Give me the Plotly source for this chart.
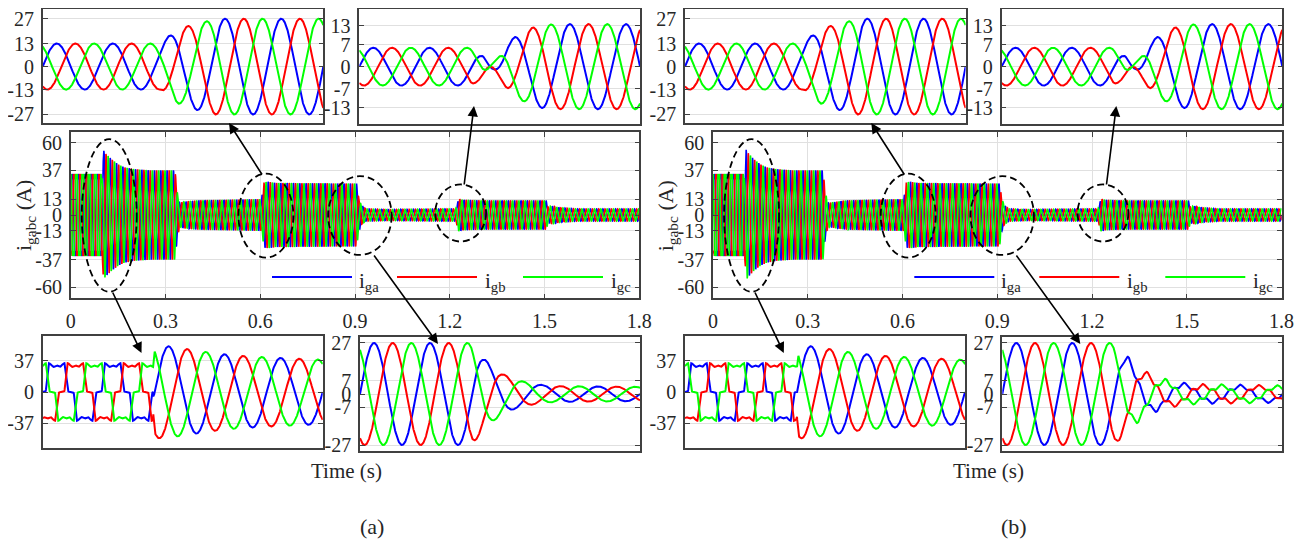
import numpy as np
import plotly.graph_objects as go

# ====================== data ======================
F_HZ = 50.0                       # grid frequency of the currents
INSET_WINDOW = 0.1                # each zoom window spans 0.1 s (5 cycles)
PHASE_NAMES = ["ga", "gb", "gc"]
PHASE_SHIFTS_DEG = [0.0, -120.0, 120.0]

# six-step (120 deg conduction) current shape over one cycle, per unit
SIXSTEP_DEG = list(range(0, 361, 10))
SIXSTEP_PU = [0, 0, 0.04, 0.55, 1.0, 0.98, 0.9, 0.87, 0.9, 0.93, 0.9, 0.87, 0.9, 0.98,
              1.0, 0.55, 0.04, 0, 0, 0, -0.04, -0.55, -1.0, -0.98, -0.9, -0.87, -0.9,
              -0.93, -0.9, -0.87, -0.9, -0.98, -1.0, -0.55, -0.04, 0, 0]

# ---- main traces: current envelope (A) versus time (s)
MAIN_A_SIXSTEP_END = 0.1
MAIN_A_ENV_T = [0, 0.1, 0.103, 0.11, 0.13, 0.15, 0.17, 0.2, 0.25, 0.33,
                0.338, 0.345, 0.36, 0.4, 0.5, 0.603, 0.612, 0.625, 0.65, 0.905,
                0.912, 0.92, 0.935, 1.0, 1.2, 1.218, 1.228, 1.24, 1.3, 1.505,
                1.512, 1.52, 1.55, 1.6, 1.8]
MAIN_A_ENV_I = [34, 34, 54, 51, 46, 42, 39.5, 38, 37, 37,
                18, 10, 11, 12, 12.5, 13, 27, 27.5, 26.5, 26,
                14, 8, 5, 4.5, 5, 5, 13.5, 12.5, 12, 12,
                6, 7.5, 6, 5, 5]

MAIN_B_SIXSTEP_END = 0.1
MAIN_B_ENV_T = [0, 0.1, 0.105, 0.112, 0.13, 0.15, 0.17, 0.2, 0.25, 0.348,
                0.356, 0.364, 0.38, 0.42, 0.5, 0.603, 0.612, 0.625, 0.65, 0.907,
                0.914, 0.922, 0.937, 1.0, 1.2, 1.218, 1.228, 1.24, 1.3, 1.505,
                1.512, 1.52, 1.55, 1.6, 1.8]
MAIN_B_ENV_I = [34, 34, 54, 51, 46, 42, 39.5, 38, 37, 37,
                18, 10, 10.5, 12, 12.5, 13, 27, 27.5, 26.5, 26,
                14, 8, 5, 4.5, 5, 5, 13.5, 12.5, 12, 12,
                6, 7.5, 6, 5, 5]

MAIN_X_TICKS = [0, 0.3, 0.6, 0.9, 1.2, 1.5, 1.8]
MAIN_X_TICKTEXT = ["0", "0.3", "0.6", "0.9", "1.2", "1.5", "1.8"]
MAIN_Y_TICKS = [60, 37, 13, 0, -13, -37, -60]
MAIN_Y_TICKTEXT = ["60", "37", "13", "0", "-13", "-37", "-60"]

# ---- zoom insets: window start (s), envelope knots (fraction of window, A)
TL_A_T0 = 0.56
TL_A_ENV_FRAC = [0, 0.418, 0.448, 0.483, 0.513, 0.549, 0.584, 0.614, 1.0]
TL_A_ENV_I = [13, 13, 17, 20.8, 22.6, 24.5, 25.5, 27, 27]
TL_B_T0 = 0.56
TL_B_ENV_FRAC = [0, 0.418, 0.448, 0.483, 0.513, 0.549, 0.584, 0.614, 1.0]
TL_B_ENV_I = [13, 13, 17, 20.8, 22.6, 24.5, 25.5, 27, 27]
TL_Y_TICKS = [27, 13, 0, -13, -27]
TL_Y_TICKTEXT = ["27", "13", "0", "-13", "-27"]

TR_A_T0 = 1.18
TR_A_ENV_FRAC = [0, 0.40, 0.44, 0.465, 0.49, 0.53, 0.555, 0.585, 0.62, 0.66, 0.72, 1.0]
TR_A_ENV_I = [6, 6, 3.5, 0, -2.5, -7.5, -9.5, -11, -12.5, -13.3, -13.5, -13.5]
TR_B_T0 = 1.18
TR_B_ENV_FRAC = [0, 0.40, 0.44, 0.465, 0.49, 0.53, 0.555, 0.585, 0.62, 0.66, 0.72, 1.0]
TR_B_ENV_I = [6, 6, 3.5, 0, -2.5, -7.5, -9.5, -11, -12.5, -13.3, -13.5, -13.5]
TR_Y_TICKS = [13, 7, 0, -7, -13]
TR_Y_TICKTEXT = ["13", "7", "0", "-7", "-13"]

BL_A_T0 = 0.06
BL_A_SIXSTEP_FRAC = 0.395
BL_A_ENV_FRAC = [0, 0.395, 0.40, 0.45, 0.5, 0.55, 0.6, 0.65, 0.7, 0.8, 0.9, 1.0]
BL_A_ENV_I = [34, 34, 55, 54, 51.5, 49, 46.5, 44.5, 43, 41, 39.5, 38]
BL_B_T0 = 0.06
BL_B_SIXSTEP_FRAC = 0.40
BL_B_ENV_FRAC = [0, 0.40, 0.405, 0.45, 0.5, 0.55, 0.6, 0.65, 0.7, 0.8, 0.9, 1.0]
BL_B_ENV_I = [34, 34, 55, 54, 51.5, 49, 46.5, 44.5, 43, 41, 39.5, 38]
BL_Y_TICKS = [37, 0, -37]
BL_Y_TICKTEXT = ["37", "0", "-37"]

BR_A_T0 = 0.87
BR_A_ENV_FRAC = [0, 0.40, 0.44, 0.47, 0.51, 0.55, 0.6, 0.65, 0.7, 1.0]
BR_A_ENV_I = [27, 27, 19, 15, 10.5, 8, 6, 4.8, 4.2, 3.8]
BR_B_T0 = 0.87
BR_B_ENV_FRAC = [0, 0.40, 0.44, 0.47, 0.51, 0.55, 0.6, 0.65, 0.7, 1.0]
BR_B_ENV_I = [27, 27, 19, 15, 10.5, 8, 6, 4.8, 4.2, 3.8]
BR_B_H5_FRAC = [0, 0.40, 0.44, 0.6, 1.0]       # 5th-harmonic ripple in (b)
BR_B_H5_I = [0, 0, 2.0, 1.2, 0.8]
BR_Y_TICKS = [27, 7, 0, -7, -27]
BR_Y_TICKTEXT = ["27", "7", "0", "-7", "-27"]

# ====================== figure layout ======================
# The page body adds an 8 px margin, so the figure is drawn 8 px smaller and
# all positions below (given in window pixels) are shifted by that margin.
PAGE_W, PAGE_H = 1313, 542
BODY = 8
W, H = PAGE_W - BODY, PAGE_H - BODY


def px(x):
    return (x - BODY) / W


def py(y):
    return 1 - (y - BODY) / H


FONT = "Liberation Serif, Times New Roman, serif"
TXT = "#262626"
AXC = "#404040"
GRID = "#e0e0e0"
COLORS = ["#0000ff", "#ff0000", "#00ff00"]
OFF_B = 642.3

# pixel boxes (x0, x1, y0_top, y1_bottom)
BOX = {
    "mainA": (70.7, 639.3, 131.7, 298.3),
    "mainB": (70.7 + OFF_B, 639.3 + OFF_B, 131.7, 298.3),
    "TLA": (42.7, 323.3, 9.3, 123.3),
    "TRA": (359.3, 640.0, 9.3, 124.0),
    "BLA": (42.7, 322.7, 335.7, 448.3),
    "BRA": (360.0, 640.0, 337.3, 450.7),
    "TLB": (42.7 + OFF_B, 323.3 + OFF_B, 9.3, 123.3),
    "TRB": (359.3 + OFF_B, 640.0 + OFF_B, 9.3, 124.0),
    "BLB": (42.7 + OFF_B, 322.7 + OFF_B, 335.7, 448.3),
    "BRB": (360.0 + OFF_B, 640.0 + OFF_B, 337.3, 450.7),
}
AX_ID = {"mainA": 1, "mainB": 2, "TLA": 3, "TRA": 4, "BLA": 5, "BRA": 6,
         "TLB": 7, "TRB": 8, "BLB": 9, "BRB": 10}
YRANGE = {"main": [-69, 69], "TL": [-32, 32.3], "TR": [-18.2, 18.2],
          "BL": [-66.5, 66.5], "BR": [-30, 30]}


def sixstep(theta_deg):
    return np.interp(np.mod(theta_deg, 360.0), SIXSTEP_DEG, SIXSTEP_PU)


def three_phase(t, t_ref, env_t, env_i, sixstep_end=None, h5_t=None, h5_i=None):
    amp = np.interp(t, env_t, env_i)
    theta = 360.0 * F_HZ * (t - t_ref)
    out = []
    for sh in PHASE_SHIFTS_DEG:
        th = theta + sh
        y = amp * np.sin(np.radians(th))
        if sixstep_end is not None:
            m = t < sixstep_end
            y[m] = amp[m] * sixstep(th[m])
        if h5_t is not None:
            y = y + np.interp(t, h5_t, h5_i) * np.sin(np.radians(5 * th))
        out.append(y)
    return out


fig = go.Figure()


def add_traces(key, t, ys, width):
    n = AX_ID[key]
    xa = "x" if n == 1 else f"x{n}"
    ya = "y" if n == 1 else f"y{n}"
    for name, col, y in zip(PHASE_NAMES, COLORS, ys):
        fig.add_trace(go.Scatter(x=t, y=y, mode="lines", name="i" + name,
                                 line=dict(color=col, width=width),
                                 xaxis=xa, yaxis=ya, showlegend=False,
                                 hoverinfo="skip"))


# main panels
t_main = np.linspace(0, 1.8, 6481)
add_traces("mainA", t_main, three_phase(t_main, 0.0, MAIN_A_ENV_T, MAIN_A_ENV_I,
                                        sixstep_end=MAIN_A_SIXSTEP_END), 1.6)
add_traces("mainB", t_main, three_phase(t_main, 0.0, MAIN_B_ENV_T, MAIN_B_ENV_I,
                                        sixstep_end=MAIN_B_SIXSTEP_END), 1.6)


def inset(key, t0, frac, amps, sixstep_frac=None, h5_frac=None, h5_i=None):
    t = np.linspace(t0, t0 + INSET_WINDOW, 1201)
    env_t = [t0 + f * INSET_WINDOW for f in frac]
    se = None if sixstep_frac is None else t0 + sixstep_frac * INSET_WINDOW
    h5t = None if h5_frac is None else [t0 + f * INSET_WINDOW for f in h5_frac]
    add_traces(key, t, three_phase(t, t0, env_t, amps, sixstep_end=se,
                                   h5_t=h5t, h5_i=h5_i), 2.0)
    return [t0, t0 + INSET_WINDOW]


xr = {}
xr["TLA"] = inset("TLA", TL_A_T0, TL_A_ENV_FRAC, TL_A_ENV_I)
xr["TRA"] = inset("TRA", TR_A_T0, TR_A_ENV_FRAC, TR_A_ENV_I)
xr["BLA"] = inset("BLA", BL_A_T0, BL_A_ENV_FRAC, BL_A_ENV_I, sixstep_frac=BL_A_SIXSTEP_FRAC)
xr["BRA"] = inset("BRA", BR_A_T0, BR_A_ENV_FRAC, BR_A_ENV_I)
xr["TLB"] = inset("TLB", TL_B_T0, TL_B_ENV_FRAC, TL_B_ENV_I)
xr["TRB"] = inset("TRB", TR_B_T0, TR_B_ENV_FRAC, TR_B_ENV_I)
xr["BLB"] = inset("BLB", BL_B_T0, BL_B_ENV_FRAC, BL_B_ENV_I, sixstep_frac=BL_B_SIXSTEP_FRAC)
xr["BRB"] = inset("BRB", BR_B_T0, BR_B_ENV_FRAC, BR_B_ENV_I,
                  h5_frac=BR_B_H5_FRAC, h5_i=BR_B_H5_I)

layout = dict(width=W, height=H, margin=dict(l=0, r=0, t=0, b=0),
              paper_bgcolor="white", plot_bgcolor="white", showlegend=False,
              font=dict(family=FONT, size=20, color=TXT))

inset_ticks = {"TL": (TL_Y_TICKS, TL_Y_TICKTEXT), "TR": (TR_Y_TICKS, TR_Y_TICKTEXT),
               "BL": (BL_Y_TICKS, BL_Y_TICKTEXT), "BR": (BR_Y_TICKS, BR_Y_TICKTEXT)}

for key, (x0, x1, y0, y1) in BOX.items():
    n = AX_ID[key]
    xk = "xaxis" if n == 1 else f"xaxis{n}"
    yk = "yaxis" if n == 1 else f"yaxis{n}"
    xa_name = "x" if n == 1 else f"x{n}"
    ya_name = "y" if n == 1 else f"y{n}"
    common = dict(showline=True, mirror="ticks", linecolor=AXC, linewidth=1.6,
                  ticks="inside", ticklen=5, tickwidth=1.2, tickcolor=AXC,
                  zeroline=False, gridcolor=GRID, gridwidth=1.3, automargin=False,
                  ticklabeloverflow="allow",
                  tickfont=dict(family=FONT, size=20, color=TXT))
    dom_x = [px(x0), px(x1)]
    dom_y = [py(y1), py(y0)]
    if key.startswith("main"):
        layout[xk] = dict(domain=dom_x, anchor=ya_name, range=[0, 1.8],
                          tickvals=MAIN_X_TICKS, ticktext=MAIN_X_TICKTEXT,
                          showgrid=True, ticklabelstandoff=4, **common)
        layout[yk] = dict(domain=dom_y, anchor=xa_name,
                          range=YRANGE["main"], tickvals=MAIN_Y_TICKS,
                          ticktext=MAIN_Y_TICKTEXT, showgrid=True,
                          ticklabelstandoff=3, **common)
    else:
        kind = key[:2]
        tv, tt = inset_ticks[kind]
        layout[xk] = dict(domain=dom_x, anchor=ya_name, range=xr[key],
                          showticklabels=False, showgrid=False, **{**common, "ticks": ""})
        layout[yk] = dict(domain=dom_y, anchor=xa_name,
                          range=YRANGE[kind], tickvals=tv, ticktext=tt,
                          showgrid=True, ticklabelstandoff=3, **common)

fig.update_layout(**layout)

# dashed ellipses marking the zoomed regions (data coords of main axes)
ELLIPSES = [(0.035, 0.209, -63.7, 62.8), (0.531, 0.705, -35.3, 34.2),
            (0.815, 1.016, -33.1, 32.2), (1.154, 1.315, -22.0, 25.3)]
for xa, ya in (("x", "y"), ("x2", "y2")):
    for ex0, ex1, ey0, ey1 in ELLIPSES:
        fig.add_shape(type="circle", xref=xa, yref=ya, x0=ex0, x1=ex1, y0=ey0, y1=ey1,
                      line=dict(color="black", width=1.8, dash="7px,4px"))

# arrows (pixel positions: tail -> head)
ARROWS = [((112, 291), (141.5, 353)), ((263, 176), (229, 123)),
          ((464, 186), (474, 106)), ((373, 254), (438, 344))]
for off in (0.0, OFF_B):
    for (tx, ty), (hx, hy) in ARROWS:
        fig.add_annotation(x=px(hx + off), y=py(hy), xref="paper", yref="paper",
                           ax=tx - hx, ay=ty - hy, text="", showarrow=True,
                           arrowhead=2, arrowsize=1.3, arrowwidth=1.6,
                           arrowcolor="black", standoff=0, startstandoff=0)

# hand-drawn legend inside each main axes
LEG = [(272, 352, 357, "ga"), (397, 477, 483, "gb"), (523, 603, 609, "gc")]
for off in (0.0, OFF_B):
    for (lx0, lx1, tx, sub), col in zip(LEG, COLORS):
        fig.add_shape(type="line", xref="paper", yref="paper",
                      x0=px(lx0 + off), x1=px(lx1 + off),
                      y0=py(277), y1=py(277), line=dict(color=col, width=2.2))
        fig.add_annotation(x=px(tx + off), y=py(282), xref="paper", yref="paper",
                           text=f"i<sub>{sub}</sub>", showarrow=False,
                           xanchor="left", yanchor="middle",
                           font=dict(family=FONT, size=21, color=TXT))

# axis titles and panel captions
for off, cap in ((0.0, "(a)"), (OFF_B, "(b)")):
    fig.add_annotation(x=px(25 + off), y=py(216), xref="paper", yref="paper",
                       text="i<sub>gabc</sub> (A)", textangle=-90, showarrow=False,
                       xanchor="center", yanchor="middle",
                       font=dict(family=FONT, size=22, color=TXT))
    fig.add_annotation(x=px(346 + off), y=py(471), xref="paper", yref="paper",
                       text="Time (s)", showarrow=False,
                       xanchor="center", yanchor="middle",
                       font=dict(family=FONT, size=21, color=TXT))
    fig.add_annotation(x=px(372 + off), y=py(526), xref="paper", yref="paper",
                       text=cap, showarrow=False,
                       xanchor="center", yanchor="middle",
                       font=dict(family=FONT, size=22, color=TXT))

fig.write_html("out.html")
